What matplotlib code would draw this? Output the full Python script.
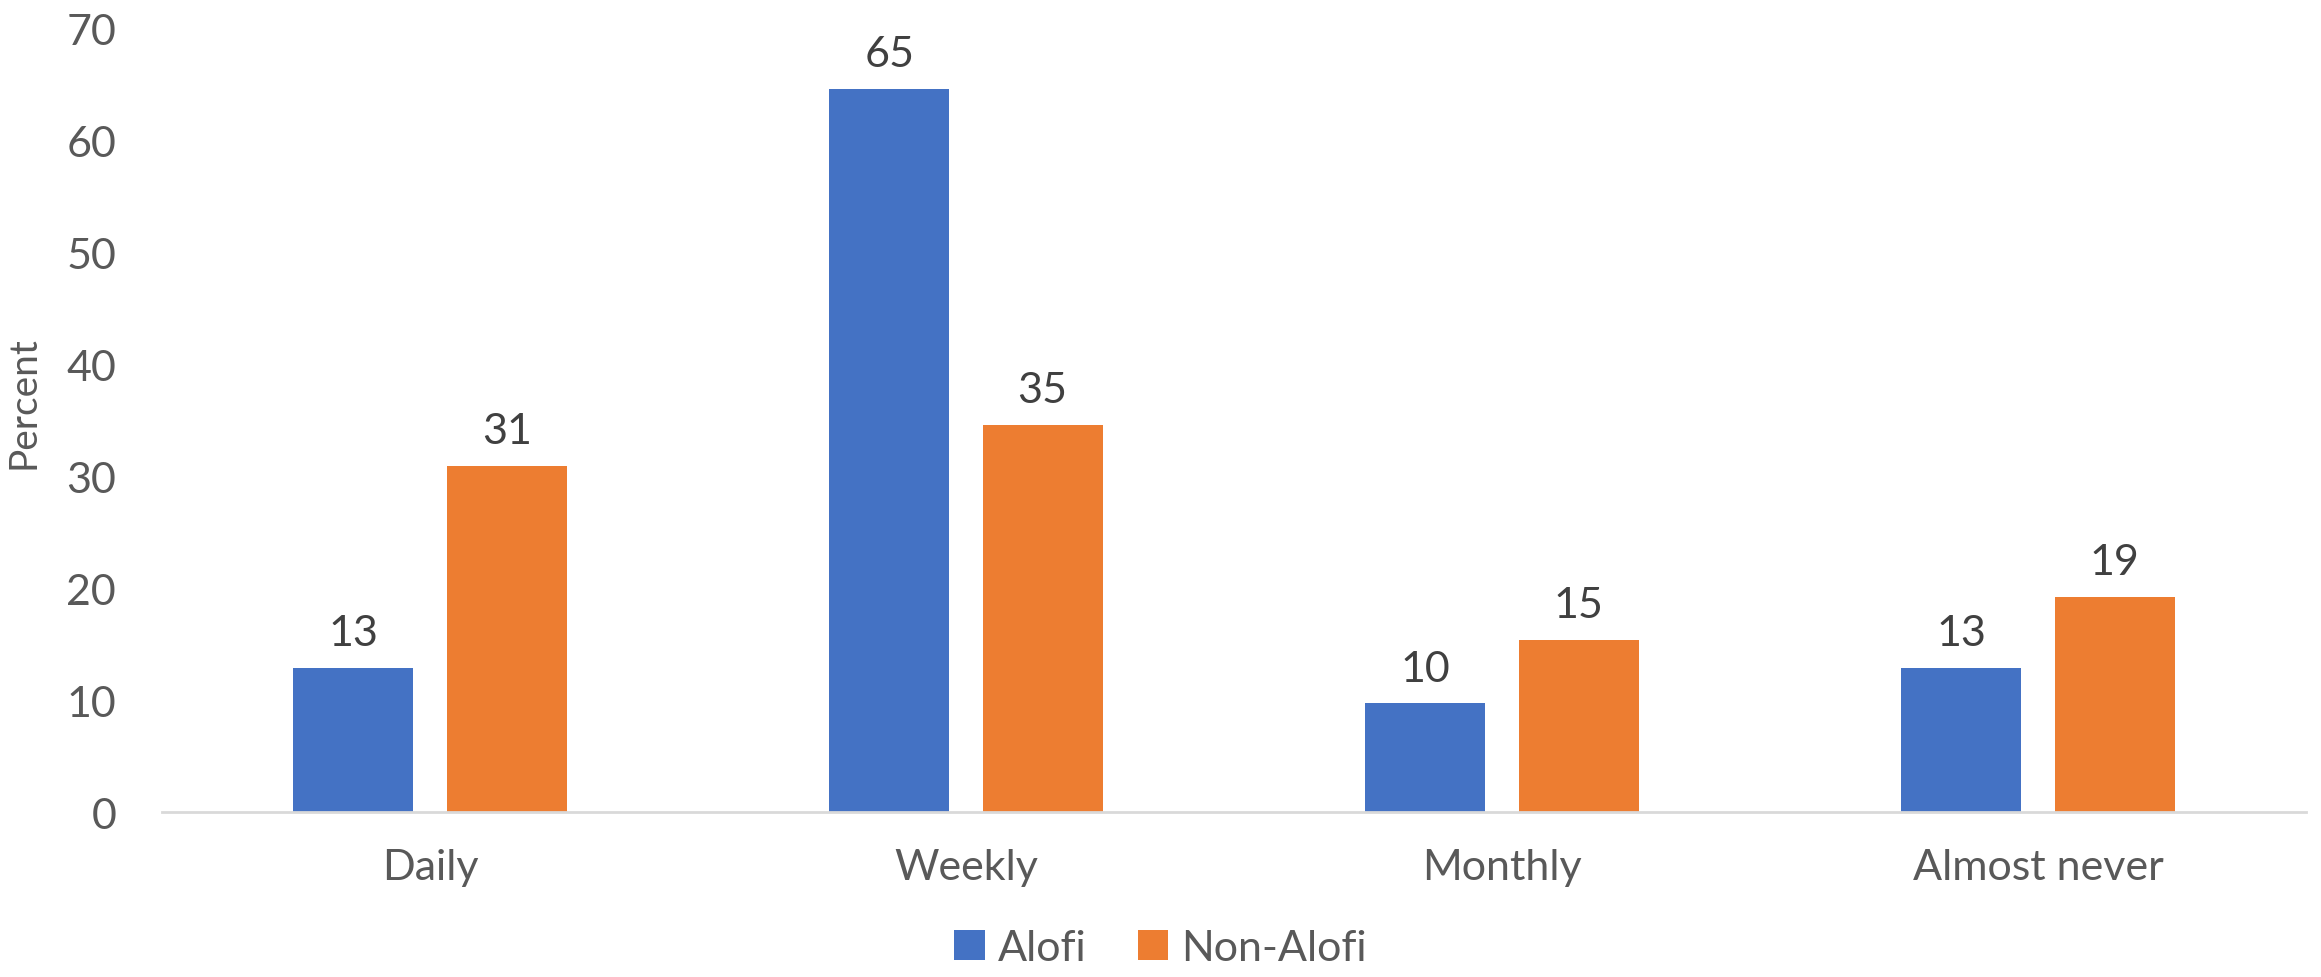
import matplotlib
matplotlib.use("Agg")
import matplotlib.pyplot as plt
import numpy as np

plt.rcParams["font.family"] = ["Lato", "DejaVu Sans"]

categories = ["Daily", "Weekly", "Monthly", "Almost never"]
alofi = [12.9, 64.6, 9.7, 12.9]
non_alofi = [30.9, 34.6, 15.4, 19.2]
series_names = ["Alofi", "Non-Alofi"]
colors = ["#4472C4", "#ED7D31"]

fig = plt.figure(figsize=(23.21, 9.78), dpi=100)
ax = fig.add_axes([0.0698, 0.1687, 0.9237, 0.8016])

x = np.arange(len(categories))
w = 0.224
off = 0.143
b1 = ax.bar(x - off, alofi, w, color=colors[0], label=series_names[0])
b2 = ax.bar(x + off, non_alofi, w, color=colors[1], label=series_names[1])

# data labels
for bars, vals in ((b1, alofi), (b2, non_alofi)):
    for rect, v in zip(bars, vals):
        ax.text(rect.get_x() + rect.get_width() / 2, v + 1.4, f"{v:.0f}",
                ha="center", va="bottom", fontsize=31, color="#404040")

ax.set_xlim(-0.5, len(categories) - 0.5)
ax.set_ylim(0, 70)
ax.set_yticks(range(0, 71, 10))
ax.set_xticks(x)
ax.set_xticklabels(categories)

for s in ["top", "right", "left"]:
    ax.spines[s].set_visible(False)
ax.spines["bottom"].set_color("#D9D9D9")
ax.spines["bottom"].set_linewidth(2)
ax.tick_params(axis="both", length=0, labelsize=31, colors="#595959")
ax.tick_params(axis="x", pad=26)
ax.tick_params(axis="y", pad=33)

ax.set_ylabel("Percent", fontsize=28, color="#595959")
ax.yaxis.set_label_coords(-0.056, 0.523)

ax.legend(loc="center", bbox_to_anchor=(0.5, 0.03), bbox_transform=fig.transFigure,
          ncol=2, frameon=False, fontsize=31, labelcolor="#595959",
          handlelength=0.7, handleheight=0.7, handletextpad=0.3, columnspacing=1.2)

plt.savefig("out.png", dpi=100)
